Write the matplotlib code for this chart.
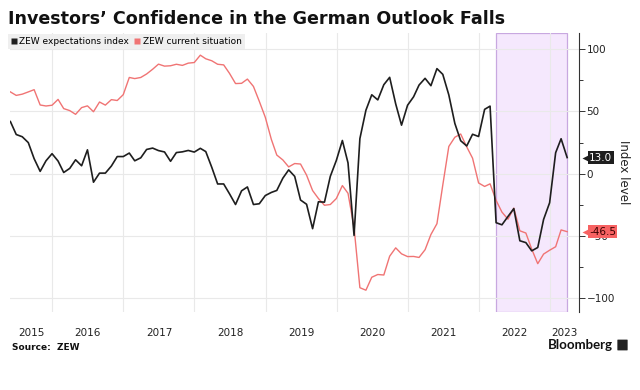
import matplotlib
matplotlib.use("Agg")
import matplotlib.pyplot as plt
import matplotlib.transforms as mtransforms
from matplotlib.lines import Line2D
from matplotlib.patches import FancyBboxPatch
import pandas as pd

# ZEW Germany, monthly, May 2015 - Mar 2023
start_month = "2015-05-31"
expectations = [
    41.9, 31.5, 29.7, 25.0, 12.1, 1.9, 10.4, 16.1,
    10.2, 1.0, 4.3, 11.2, 6.4, 19.2, -6.8, 0.5, 0.5, 6.2, 13.8, 13.8,
    16.6, 10.4, 12.8, 19.5, 20.6, 18.6, 17.5, 10.0, 17.0, 17.6, 18.7, 17.4,
    20.4, 17.8, 5.1, -8.2, -8.2, -16.1, -24.7, -13.7, -10.6, -24.7, -24.1, -17.5,
    -15.0, -13.4, -3.6, 3.1, -2.1, -21.1, -24.5, -44.1, -22.5, -22.8, -2.1, 10.7,
    26.7, 8.7, -49.5, 28.2, 51.0, 63.4, 59.3, 71.5, 77.4, 56.1, 39.0, 55.0,
    61.8, 71.2, 76.6, 70.7, 84.4, 79.8, 63.3, 40.4, 26.5, 22.3, 31.7, 29.9,
    51.7, 54.3, -39.3, -41.0, -34.3, -28.0, -53.8, -55.3, -61.9, -59.2, -36.7, -23.3,
    16.9, 28.1, 13.0,
]
current = [
    65.7, 62.9, 63.9, 65.7, 67.5, 55.2, 54.4, 55.0,
    59.7, 52.3, 50.7, 47.7, 53.1, 54.5, 49.8, 57.6, 55.1, 59.5, 58.8, 63.5,
    77.3, 76.4, 77.3, 80.1, 83.9, 88.0, 86.4, 86.7, 87.9, 87.0, 88.8, 89.3,
    95.2, 92.3, 90.7, 87.9, 87.4, 80.6, 72.4, 72.6, 76.0, 70.1, 58.2, 45.3,
    27.6, 15.0, 11.1, 5.5, 8.2, 7.8, -1.1, -13.5, -19.9, -25.3, -24.7, -19.9,
    -9.5, -15.7, -43.1, -91.5, -93.5, -83.1, -80.9, -81.3, -66.2, -59.5, -64.3, -66.5,
    -66.4, -67.2, -61.0, -48.8, -40.1, -9.1, 21.9, 29.3, 31.9, 21.6, 12.5, -7.4,
    -10.2, -8.1, -21.4, -30.8, -36.5, -27.6, -45.8, -47.6, -60.5, -72.2, -64.5, -61.4,
    -58.6, -45.1, -46.5,
]
series_names = ["ZEW expectations index", "ZEW current situation"]
shade_start, shade_end = "2022-03-31", "2023-03-31"
year_labels = list(range(2015, 2024))
y_major = [-100, -50, 0, 50, 100]

BLACK = "#1e1e1e"
RED = "#f07474"
TAG_RED = "#f76262"

dates = pd.date_range(start_month, periods=len(expectations), freq="ME")

fig = plt.figure(figsize=(6.4, 3.9), dpi=100)
ax = fig.add_axes([10 / 640, 1 - 312 / 390, (579 - 10) / 640, (312 - 33) / 390])

x0 = pd.Timestamp("2015-05-29")
x1 = pd.Timestamp("2023-05-31")

# shaded period
ax.axvspan(pd.Timestamp(shade_start), pd.Timestamp(shade_end), facecolor="#f5e8fd",
           edgecolor="#c8a8e0", linewidth=0.9, zorder=0)

ax.plot(dates, current, color=RED, lw=1.0, zorder=3)
ax.plot(dates, expectations, color=BLACK, lw=1.2, zorder=4)

ax.set_xlim(x0, x1)
ax.set_ylim(-111, 113)

# year boundaries as gridlines, labels centred in the visible part of each year
bounds = [pd.Timestamp(f"{y}-01-01") for y in year_labels[1:]]
ax.set_xticks(bounds)
ax.set_xticklabels([])
mids = []
for y in year_labels:
    a = max(pd.Timestamp(f"{y}-01-01"), x0)
    b = min(pd.Timestamp(f"{y + 1}-01-01"), x1)
    mids.append(a + (b - a) / 2)
ax.set_xticks(mids, minor=True)
ax.set_xticklabels([str(y) for y in year_labels], minor=True)
ax.tick_params(axis="x", which="both", length=0, pad=11.5, labelsize=7.5, labelcolor="#222222")

ax.yaxis.tick_right()
ax.set_yticks(y_major)
ax.set_yticks([-75, -25, 25, 75], minor=True)
ax.tick_params(axis="y", which="major", length=4, width=0.7, color="#333333",
               labelsize=7.5, labelcolor="#222222", pad=1.5)
ax.tick_params(axis="y", which="minor", length=3, width=0.7, color="#333333")
ax.yaxis.set_label_position("right")
ax.set_ylabel("Index level", rotation=270, fontsize=8.5, labelpad=11, color="#222222")

ax.grid(True, which="major", color="#e9e9e9", lw=0.8, zorder=0)
ax.set_axisbelow(True)
for s in ["top", "left", "bottom"]:
    ax.spines[s].set_visible(False)
ax.spines["right"].set_color("#333333")
ax.spines["right"].set_linewidth(0.8)

# last-value tags
blend = mtransforms.blended_transform_factory(ax.transAxes, ax.transData)
for val, fc, tc in [(expectations[-1], BLACK, "white"), (current[-1], TAG_RED, "#3a0000")]:
    ax.text(1.018, val, f"{val:.1f}", transform=blend, fontsize=7.5, color=tc,
            va="center", ha="left", clip_on=False, zorder=6,
            bbox=dict(boxstyle="square,pad=0.12", fc=fc, ec="none"))
    ax.plot([1.012], [val], marker="<", ms=5.5, color=fc, transform=blend,
            clip_on=False, zorder=6, mec="none")

# legend
handles = [Line2D([], [], ls="none", marker="s", ms=5, color=BLACK, mec="none"),
           Line2D([], [], ls="none", marker="s", ms=5, color=RED, mec="none")]
leg = ax.legend(handles, series_names, loc="upper left", ncol=2,
                bbox_to_anchor=(8 / 640, 1 - 34 / 390), bbox_transform=fig.transFigure,
                frameon=True, fancybox=False, fontsize=6.5, handlelength=0.6,
                handletextpad=0.3, columnspacing=0.6, borderpad=0.35, borderaxespad=0)
leg.get_frame().set_facecolor("#efefef")
leg.get_frame().set_edgecolor("none")
leg.get_frame().set_alpha(1)
leg.set_zorder(7)

fig.text(8 / 640, 1 - 19 / 390, "Investors’ Confidence in the German Outlook Falls",
         fontsize=12.6, weight="bold", va="center", ha="left", color="#111111")
fig.text(12 / 640, 1 - 347 / 390, "Source:  ZEW", fontsize=6.5, weight="bold",
         va="center", ha="left", color="#111111")
fig.text(613 / 640, 1 - 345 / 390, "Bloomberg", fontsize=9.5, weight="bold",
         family="Lato", va="center", ha="right", color="#111111")
fig.patches.append(FancyBboxPatch((618 / 640, 1 - 350 / 390), 9 / 640, 10 / 390,
                                  boxstyle="round,pad=0.001", transform=fig.transFigure,
                                  fc="#222222", ec="none"))

fig.savefig("out.png", dpi=100)
